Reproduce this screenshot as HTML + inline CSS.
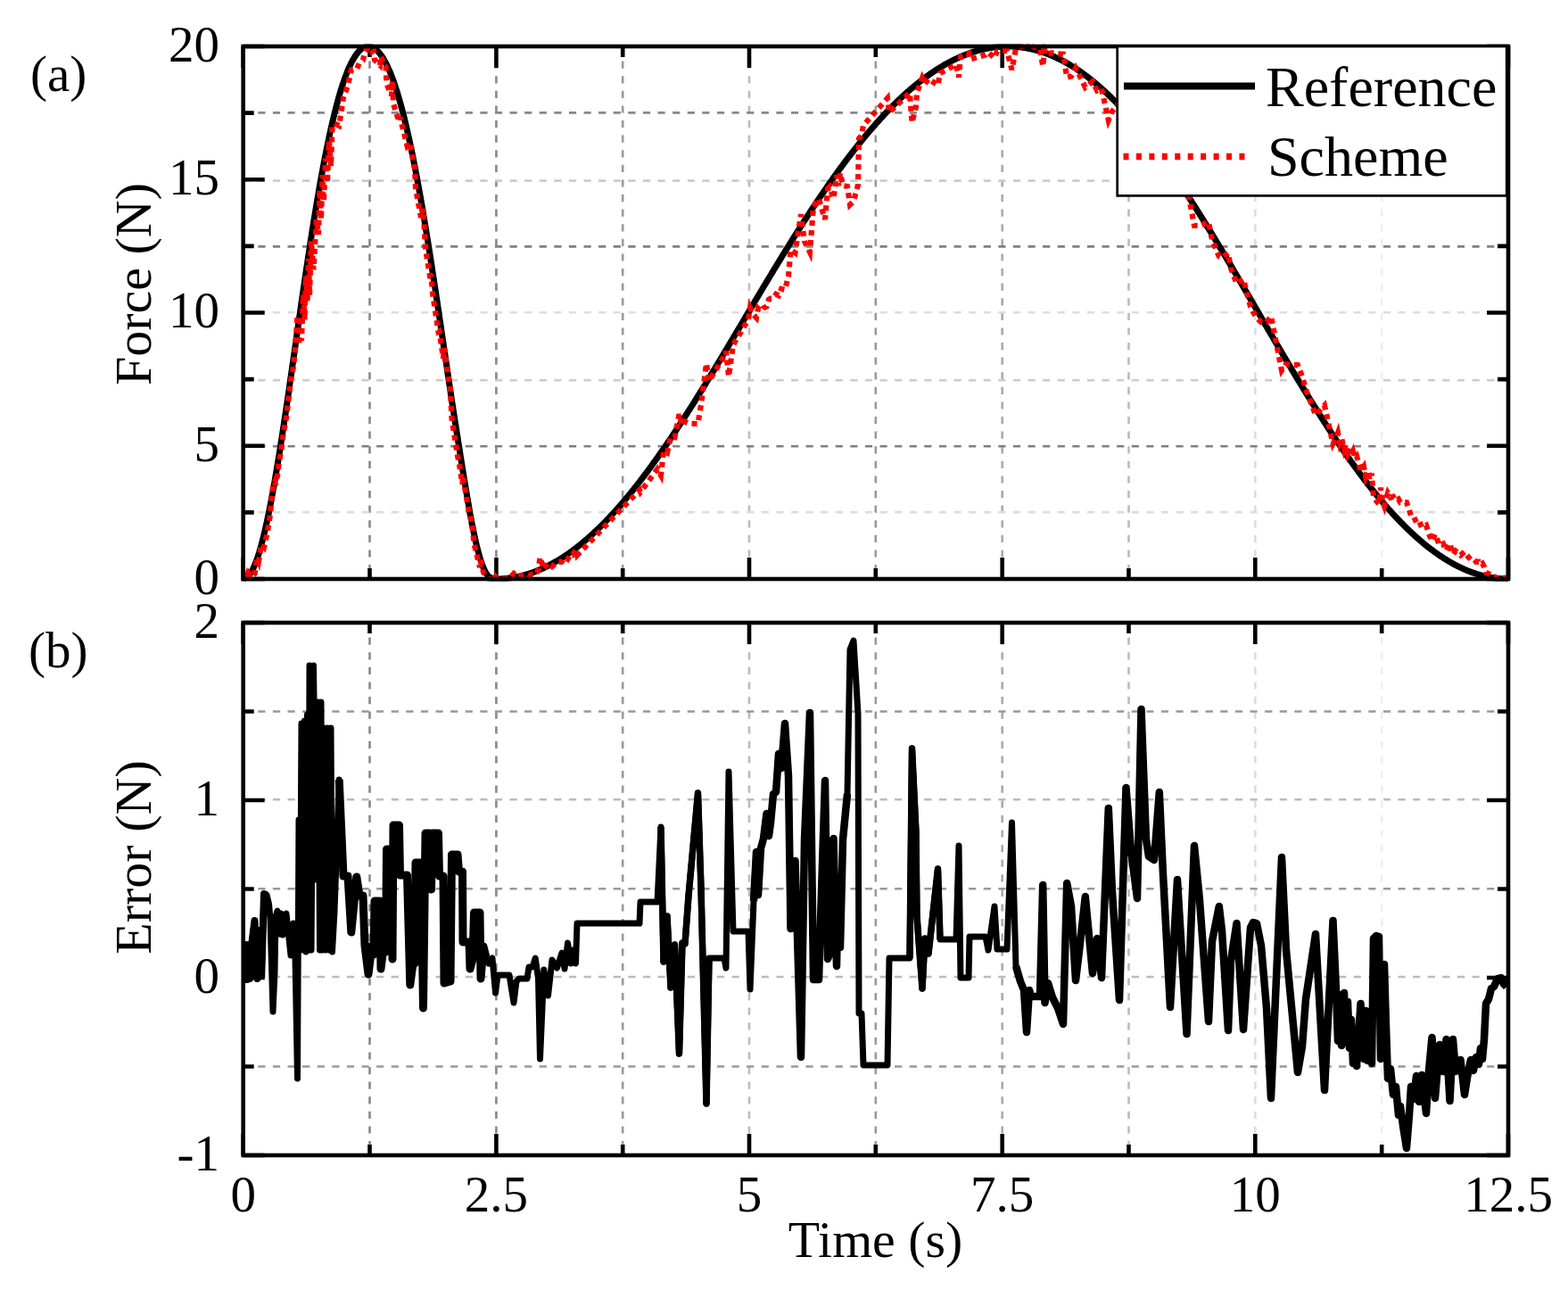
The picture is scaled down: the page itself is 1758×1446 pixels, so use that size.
<!DOCTYPE html><html><head><meta charset="utf-8"><style>html,body{margin:0;padding:0;background:#fff;overflow:hidden;}svg{display:block}text{font-family:"Liberation Serif",serif;fill:#000}</style></head><body>
<svg width="1758" height="1446" viewBox="0 0 1758 1446">
<rect width="1758" height="1446" fill="#fff"/>
<line x1="414.5" y1="52.0" x2="414.5" y2="649.0" stroke="#888888" stroke-width="2.6" stroke-dasharray="8.2 8.4"/>
<line x1="556.4" y1="52.0" x2="556.4" y2="649.0" stroke="#888888" stroke-width="2.6" stroke-dasharray="8.2 8.4"/>
<line x1="698.2" y1="52.0" x2="698.2" y2="649.0" stroke="#999999" stroke-width="2.6" stroke-dasharray="8.2 8.4"/>
<line x1="840.0" y1="52.0" x2="840.0" y2="649.0" stroke="#bbbbbb" stroke-width="2.6" stroke-dasharray="8.2 8.4"/>
<line x1="981.8" y1="52.0" x2="981.8" y2="649.0" stroke="#999999" stroke-width="2.6" stroke-dasharray="8.2 8.4"/>
<line x1="1123.7" y1="52.0" x2="1123.7" y2="649.0" stroke="#aaaaaa" stroke-width="2.6" stroke-dasharray="8.2 8.4"/>
<line x1="1265.5" y1="52.0" x2="1265.5" y2="649.0" stroke="#bbbbbb" stroke-width="2.6" stroke-dasharray="8.2 8.4"/>
<line x1="1407.3" y1="52.0" x2="1407.3" y2="649.0" stroke="#dddddd" stroke-width="2.6" stroke-dasharray="8.2 8.4"/>
<line x1="1549.2" y1="52.0" x2="1549.2" y2="649.0" stroke="#eeeeee" stroke-width="2.6" stroke-dasharray="8.2 8.4"/>
<line x1="272.7" y1="574.1" x2="1691.0" y2="574.1" stroke="#dddddd" stroke-width="2.6" stroke-dasharray="8.2 8.4"/>
<line x1="272.7" y1="500.2" x2="1691.0" y2="500.2" stroke="#808080" stroke-width="2.6" stroke-dasharray="8.2 8.4"/>
<line x1="272.7" y1="426.2" x2="1691.0" y2="426.2" stroke="#cccccc" stroke-width="2.6" stroke-dasharray="8.2 8.4"/>
<line x1="272.7" y1="350.2" x2="1691.0" y2="350.2" stroke="#dddddd" stroke-width="2.6" stroke-dasharray="8.2 8.4"/>
<line x1="272.7" y1="276.4" x2="1691.0" y2="276.4" stroke="#808080" stroke-width="2.6" stroke-dasharray="8.2 8.4"/>
<line x1="272.7" y1="202.6" x2="1691.0" y2="202.6" stroke="#cccccc" stroke-width="2.6" stroke-dasharray="8.2 8.4"/>
<line x1="272.7" y1="126.4" x2="1691.0" y2="126.4" stroke="#888888" stroke-width="2.6" stroke-dasharray="8.2 8.4"/>
<line x1="414.5" y1="698.0" x2="414.5" y2="1295.0" stroke="#888888" stroke-width="2.6" stroke-dasharray="8.2 8.4"/>
<line x1="556.4" y1="698.0" x2="556.4" y2="1295.0" stroke="#888888" stroke-width="2.6" stroke-dasharray="8.2 8.4"/>
<line x1="698.2" y1="698.0" x2="698.2" y2="1295.0" stroke="#999999" stroke-width="2.6" stroke-dasharray="8.2 8.4"/>
<line x1="840.0" y1="698.0" x2="840.0" y2="1295.0" stroke="#bbbbbb" stroke-width="2.6" stroke-dasharray="8.2 8.4"/>
<line x1="981.8" y1="698.0" x2="981.8" y2="1295.0" stroke="#999999" stroke-width="2.6" stroke-dasharray="8.2 8.4"/>
<line x1="1123.7" y1="698.0" x2="1123.7" y2="1295.0" stroke="#aaaaaa" stroke-width="2.6" stroke-dasharray="8.2 8.4"/>
<line x1="1265.5" y1="698.0" x2="1265.5" y2="1295.0" stroke="#bbbbbb" stroke-width="2.6" stroke-dasharray="8.2 8.4"/>
<line x1="1407.3" y1="698.0" x2="1407.3" y2="1295.0" stroke="#dddddd" stroke-width="2.6" stroke-dasharray="8.2 8.4"/>
<line x1="1549.2" y1="698.0" x2="1549.2" y2="1295.0" stroke="#eeeeee" stroke-width="2.6" stroke-dasharray="8.2 8.4"/>
<line x1="272.7" y1="797.5" x2="1691.0" y2="797.5" stroke="#999999" stroke-width="2.6" stroke-dasharray="8.2 8.4"/>
<line x1="272.7" y1="896.2" x2="1691.0" y2="896.2" stroke="#bbbbbb" stroke-width="2.6" stroke-dasharray="8.2 8.4"/>
<line x1="272.7" y1="996.3" x2="1691.0" y2="996.3" stroke="#999999" stroke-width="2.6" stroke-dasharray="8.2 8.4"/>
<line x1="272.7" y1="1095.0" x2="1691.0" y2="1095.0" stroke="#bbbbbb" stroke-width="2.6" stroke-dasharray="8.2 8.4"/>
<line x1="272.7" y1="1195.5" x2="1691.0" y2="1195.5" stroke="#999999" stroke-width="2.6" stroke-dasharray="8.2 8.4"/>
<path d="M272.7 649.0v-24M272.7 52.0v24M414.5 649.0v-12M414.5 52.0v12M556.4 649.0v-24M556.4 52.0v24M698.2 649.0v-12M698.2 52.0v12M840.0 649.0v-24M840.0 52.0v24M981.8 649.0v-12M981.8 52.0v12M1123.7 649.0v-24M1123.7 52.0v24M1265.5 649.0v-12M1265.5 52.0v12M1407.3 649.0v-24M1407.3 52.0v24M1549.2 649.0v-12M1549.2 52.0v12M1691.0 649.0v-24M1691.0 52.0v24M272.7 649.0h24M1691.0 649.0h-24M272.7 499.8h24M1691.0 499.8h-24M272.7 350.5h24M1691.0 350.5h-24M272.7 201.2h24M1691.0 201.2h-24M272.7 52.0h24M1691.0 52.0h-24M272.7 574.4h12M1691.0 574.4h-12M272.7 425.1h12M1691.0 425.1h-12M272.7 275.9h12M1691.0 275.9h-12M272.7 126.6h12M1691.0 126.6h-12" stroke="#000" stroke-width="4.6" fill="none"/>
<path d="M272.7 1295.0v-24M272.7 698.0v24M414.5 1295.0v-12M414.5 698.0v12M556.4 1295.0v-24M556.4 698.0v24M698.2 1295.0v-12M698.2 698.0v12M840.0 1295.0v-24M840.0 698.0v24M981.8 1295.0v-12M981.8 698.0v12M1123.7 1295.0v-24M1123.7 698.0v24M1265.5 1295.0v-12M1265.5 698.0v12M1407.3 1295.0v-24M1407.3 698.0v24M1549.2 1295.0v-12M1549.2 698.0v12M1691.0 1295.0v-24M1691.0 698.0v24M272.7 698.0h24M1691.0 698.0h-24M272.7 897.0h24M1691.0 897.0h-24M272.7 1096.0h24M1691.0 1096.0h-24M272.7 1295.0h24M1691.0 1295.0h-24M272.7 797.5h12M1691.0 797.5h-12M272.7 996.5h12M1691.0 996.5h-12M272.7 1195.5h12M1691.0 1195.5h-12" stroke="#000" stroke-width="4.6" fill="none"/>
<clipPath id="ct"><rect x="269.7" y="49.5" width="1424.3" height="602.0"/></clipPath><g clip-path="url(#ct)"><polyline points="272.7,649.0 273.6,648.5 274.6,648.0 275.5,647.5 276.5,647.0 277.4,646.5 278.4,645.9 279.3,644.7 280.3,643.5 281.2,642.1 282.2,640.5 283.1,638.8 284.0,636.9 285.0,634.8 285.9,632.5 286.9,630.1 287.8,627.6 288.8,624.9 289.7,622.0 290.7,619.0 291.6,615.8 292.6,612.5 293.5,609.0 294.4,605.4 295.4,601.6 296.3,597.7 297.3,593.7 298.2,589.5 299.2,585.3 300.1,580.8 301.1,576.3 302.0,571.6 303.0,566.8 303.9,561.9 304.8,556.9 305.8,551.8 306.7,546.5 307.7,541.2 308.6,535.8 309.6,530.2 310.5,524.6 311.5,518.9 312.4,513.1 313.4,507.3 314.3,501.3 315.2,495.3 316.2,489.2 317.1,483.1 318.1,476.9 319.0,470.6 320.0,464.3 320.9,457.9 321.9,451.5 322.8,445.1 323.8,438.6 324.7,432.1 325.6,425.5 326.6,419.0 327.5,412.4 328.5,405.8 329.4,399.2 330.4,392.5 331.3,385.9 332.3,379.3 333.2,372.7 334.2,366.1 335.1,359.4 336.1,352.9 337.0,346.3 337.9,339.7 338.9,333.2 339.8,326.7 340.8,320.2 341.7,313.8 342.7,307.4 343.6,301.0 344.6,294.7 345.5,288.4 346.5,282.2 347.4,276.0 348.3,269.9 349.3,263.8 350.2,257.8 351.2,251.8 352.1,245.9 353.1,240.1 354.0,234.4 355.0,228.7 355.9,223.1 356.9,217.5 357.8,212.1 358.7,206.7 359.7,201.4 360.6,196.1 361.6,191.0 362.5,185.9 363.5,180.9 364.4,176.0 365.4,171.2 366.3,166.5 367.3,161.9 368.2,157.3 369.1,152.9 370.1,148.5 371.0,144.2 372.0,140.0 372.9,136.0 373.9,132.0 374.8,128.1 375.8,124.3 376.7,120.6 377.7,117.0 378.6,113.5 379.5,110.1 380.5,106.7 381.4,103.5 382.4,100.4 383.3,97.4 384.3,94.5 385.2,91.7 386.2,88.9 387.1,86.3 388.1,83.8 389.0,81.4 389.9,79.0 390.9,76.8 391.8,74.7 392.8,72.7 393.7,70.7 394.7,68.9 395.6,67.1 396.6,65.5 397.5,64.0 398.5,62.5 399.4,61.1 400.3,59.9 401.3,58.7 402.2,57.7 403.2,56.7 404.1,55.8 405.1,55.0 406.0,54.3 407.0,53.7 407.9,53.2 408.9,52.8 409.8,52.5 410.7,52.2 411.7,52.1 412.6,52.0 413.6,52.0 414.5,52.1 415.5,52.3 416.4,52.6 417.4,53.0 418.3,53.4 419.3,53.9 420.2,54.5 421.1,55.2 422.1,56.0 423.0,56.9 424.0,57.9 424.9,58.9 425.9,60.1 426.8,61.3 427.8,62.6 428.7,64.0 429.7,65.5 430.6,67.1 431.5,68.8 432.5,70.5 433.4,72.4 434.4,74.3 435.3,76.4 436.3,78.5 437.2,80.7 438.2,83.0 439.1,85.4 440.1,87.9 441.0,90.5 442.0,93.2 442.9,96.0 443.8,98.9 444.8,101.8 445.7,104.9 446.7,108.0 447.6,111.3 448.6,114.6 449.5,118.0 450.5,121.5 451.4,125.1 452.4,128.8 453.3,132.6 454.2,136.4 455.2,140.4 456.1,144.4 457.1,148.6 458.0,152.8 459.0,157.1 459.9,161.5 460.9,165.9 461.8,170.5 462.8,175.1 463.7,179.8 464.6,184.6 465.6,189.5 466.5,194.5 467.5,199.5 468.4,204.6 469.4,209.8 470.3,215.0 471.3,220.3 472.2,225.7 473.2,231.2 474.1,236.7 475.0,242.3 476.0,248.0 476.9,253.7 477.9,259.4 478.8,265.2 479.8,271.1 480.7,277.1 481.7,283.0 482.6,289.1 483.6,295.1 484.5,301.2 485.4,307.4 486.4,313.6 487.3,319.8 488.3,326.0 489.2,332.3 490.2,338.6 491.1,345.0 492.1,351.3 493.0,357.7 494.0,364.1 494.9,370.5 495.8,376.8 496.8,383.3 497.7,389.7 498.7,396.1 499.6,402.4 500.6,408.8 501.5,415.2 502.5,421.6 503.4,427.9 504.4,434.2 505.3,440.5 506.2,446.7 507.2,453.0 508.1,459.1 509.1,465.3 510.0,471.4 511.0,477.4 511.9,483.4 512.9,489.4 513.8,495.4 514.8,501.3 515.7,507.3 516.6,513.3 517.6,519.2 518.5,525.1 519.5,531.0 520.4,536.8 521.4,542.6 522.3,548.3 523.3,553.9 524.2,559.5 525.2,564.9 526.1,570.3 527.0,575.6 528.0,580.7 528.9,585.7 529.9,590.5 530.8,595.2 531.8,599.7 532.7,604.1 533.7,608.3 534.6,612.3 535.6,616.1 536.5,619.7 537.4,623.0 538.4,626.2 539.3,629.2 540.3,631.9 541.2,634.5 542.2,636.8 543.1,638.9 544.1,640.8 545.0,642.5 546.0,643.9 546.9,645.2 547.9,646.2 548.8,646.7 549.7,647.2 550.7,647.8 551.6,648.3 552.6,648.8 553.5,649.0 554.5,649.0 555.4,649.0 556.4,649.0 557.3,649.0 558.3,649.0 559.2,649.0 560.1,648.9 561.1,648.9 562.0,648.9 563.0,648.8 563.9,648.7 564.9,648.7 565.8,648.6 566.8,648.5 567.7,648.4 568.7,648.3 569.6,648.2 570.5,648.1 571.5,648.0 572.4,647.9 573.4,647.7 574.3,647.6 575.3,647.4 576.2,647.3 577.2,647.1 578.1,646.9 579.1,646.7 580.0,646.6 580.9,646.4 581.9,646.1 582.8,645.9 583.8,645.7 584.7,645.5 585.7,645.2 586.6,645.0 587.6,644.7 588.5,644.5 589.5,644.2 590.4,643.9 591.3,643.6 592.3,643.4 593.2,643.1 594.2,642.7 595.1,642.4 596.1,642.1 597.0,641.8 598.0,641.4 598.9,641.1 599.9,640.7 600.8,640.4 601.7,640.0 602.7,639.6 603.6,639.2 604.6,638.8 605.5,638.4 606.5,638.0 607.4,637.6 608.4,637.2 609.3,636.8 610.3,636.3 611.2,635.9 612.1,635.4 613.1,634.9 614.0,634.5 615.0,634.0 615.9,633.5 616.9,633.0 617.8,632.5 618.8,632.0 619.7,631.5 620.7,631.0 621.6,630.4 622.5,629.9 623.5,629.4 624.4,628.8 625.4,628.2 626.3,627.7 627.3,627.1 628.2,626.5 629.2,625.9 630.1,625.3 631.1,624.7 632.0,624.1 632.9,623.5 633.9,622.8 634.8,622.2 635.8,621.6 636.7,620.9 637.7,620.3 638.6,619.6 639.6,618.9 640.5,618.2 641.5,617.5 642.4,616.9 643.3,616.1 644.3,615.4 645.2,614.7 646.2,614.0 647.1,613.3 648.1,612.5 649.0,611.8 650.0,611.0 650.9,610.3 651.9,609.5 652.8,608.7 653.7,607.9 654.7,607.1 655.6,606.3 656.6,605.5 657.5,604.7 658.5,603.9 659.4,603.1 660.4,602.2 661.3,601.4 662.3,600.6 663.2,599.7 664.2,598.8 665.1,598.0 666.0,597.1 667.0,596.2 667.9,595.3 668.9,594.4 669.8,593.5 670.8,592.6 671.7,591.7 672.7,590.8 673.6,589.8 674.6,588.9 675.5,588.0 676.4,587.0 677.4,586.1 678.3,585.1 679.3,584.1 680.2,583.1 681.2,582.2 682.1,581.2 683.1,580.2 684.0,579.2 685.0,578.1 685.9,577.1 686.8,576.1 687.8,575.1 688.7,574.0 689.7,573.0 690.6,571.9 691.6,570.9 692.5,569.8 693.5,568.8 694.4,567.7 695.4,566.6 696.3,565.5 697.2,564.4 698.2,563.3 699.1,562.2 700.1,561.1 701.0,560.0 702.0,558.8 702.9,557.7 703.9,556.6 704.8,555.4 705.8,554.3 706.7,553.1 707.6,552.0 708.6,550.8 709.5,549.6 710.5,548.4 711.4,547.3 712.4,546.1 713.3,544.9 714.3,543.7 715.2,542.5 716.2,541.2 717.1,540.0 718.0,538.8 719.0,537.6 719.9,536.3 720.9,535.1 721.8,533.8 722.8,532.6 723.7,531.3 724.7,530.1 725.6,528.8 726.6,527.5 727.5,526.2 728.4,525.0 729.4,523.7 730.3,522.4 731.3,521.1 732.2,519.8 733.2,518.4 734.1,517.1 735.1,515.8 736.0,514.5 737.0,513.2 737.9,511.8 738.8,510.5 739.8,509.1 740.7,507.8 741.7,506.4 742.6,505.1 743.6,503.7 744.5,502.3 745.5,501.0 746.4,499.6 747.4,498.2 748.3,496.8 749.2,495.4 750.2,494.0 751.1,492.6 752.1,491.2 753.0,489.8 754.0,488.4 754.9,487.0 755.9,485.6 756.8,484.1 757.8,482.7 758.7,481.3 759.6,479.9 760.6,478.4 761.5,477.0 762.5,475.5 763.4,474.1 764.4,472.6 765.3,471.2 766.3,469.7 767.2,468.2 768.2,466.8 769.1,465.3 770.1,463.8 771.0,462.3 771.9,460.8 772.9,459.4 773.8,457.9 774.8,456.4 775.7,454.9 776.7,453.4 777.6,451.9 778.6,450.4 779.5,448.9 780.5,447.4 781.4,445.8 782.3,444.3 783.3,442.8 784.2,441.3 785.2,439.8 786.1,438.2 787.1,436.7 788.0,435.2 789.0,433.6 789.9,432.1 790.9,430.6 791.8,429.0 792.7,427.5 793.7,425.9 794.6,424.4 795.6,422.8 796.5,421.3 797.5,419.7 798.4,418.2 799.4,416.6 800.3,415.1 801.3,413.5 802.2,411.9 803.1,410.4 804.1,408.8 805.0,407.2 806.0,405.7 806.9,404.1 807.9,402.5 808.8,400.9 809.8,399.4 810.7,397.8 811.7,396.2 812.6,394.6 813.5,393.1 814.5,391.5 815.4,389.9 816.4,388.3 817.3,386.7 818.3,385.1 819.2,383.5 820.2,382.0 821.1,380.4 822.1,378.8 823.0,377.2 823.9,375.6 824.9,374.0 825.8,372.4 826.8,370.8 827.7,369.2 828.7,367.7 829.6,366.1 830.6,364.5 831.5,362.9 832.5,361.3 833.4,359.7 834.3,358.1 835.3,356.5 836.2,354.9 837.2,353.3 838.1,351.7 839.1,350.1 840.0,348.6 841.0,347.0 841.9,345.4 842.9,343.8 843.8,342.2 844.7,340.6 845.7,339.0 846.6,337.4 847.6,335.8 848.5,334.3 849.5,332.7 850.4,331.1 851.4,329.5 852.3,327.9 853.3,326.3 854.2,324.8 855.1,323.2 856.1,321.6 857.0,320.0 858.0,318.5 858.9,316.9 859.9,315.3 860.8,313.7 861.8,312.2 862.7,310.6 863.7,309.0 864.6,307.5 865.5,305.9 866.5,304.3 867.4,302.8 868.4,301.2 869.3,299.7 870.3,298.1 871.2,296.6 872.2,295.0 873.1,293.5 874.1,291.9 875.0,290.4 876.0,288.8 876.9,287.3 877.8,285.7 878.8,284.2 879.7,282.7 880.7,281.1 881.6,279.6 882.6,278.1 883.5,276.6 884.5,275.0 885.4,273.5 886.4,272.0 887.3,270.5 888.2,269.0 889.2,267.5 890.1,266.0 891.1,264.5 892.0,263.0 893.0,261.5 893.9,260.0 894.9,258.5 895.8,257.0 896.8,255.5 897.7,254.0 898.6,252.6 899.6,251.1 900.5,249.6 901.5,248.1 902.4,246.7 903.4,245.2 904.3,243.8 905.3,242.3 906.2,240.9 907.2,239.4 908.1,238.0 909.0,236.5 910.0,235.1 910.9,233.7 911.9,232.2 912.8,230.8 913.8,229.4 914.7,228.0 915.7,226.5 916.6,225.1 917.6,223.7 918.5,222.3 919.4,220.9 920.4,219.5 921.3,218.1 922.3,216.8 923.2,215.4 924.2,214.0 925.1,212.6 926.1,211.3 927.0,209.9 928.0,208.5 928.9,207.2 929.8,205.8 930.8,204.5 931.7,203.1 932.7,201.8 933.6,200.5 934.6,199.1 935.5,197.8 936.5,196.5 937.4,195.2 938.4,193.8 939.3,192.5 940.2,191.2 941.2,189.9 942.1,188.7 943.1,187.4 944.0,186.1 945.0,184.8 945.9,183.5 946.9,182.3 947.8,181.0 948.8,179.7 949.7,178.5 950.6,177.2 951.6,176.0 952.5,174.8 953.5,173.5 954.4,172.3 955.4,171.1 956.3,169.9 957.3,168.6 958.2,167.4 959.2,166.2 960.1,165.0 961.0,163.8 962.0,162.7 962.9,161.5 963.9,160.3 964.8,159.1 965.8,158.0 966.7,156.8 967.7,155.7 968.6,154.5 969.6,153.4 970.5,152.2 971.4,151.1 972.4,150.0 973.3,148.8 974.3,147.7 975.2,146.6 976.2,145.5 977.1,144.4 978.1,143.3 979.0,142.2 980.0,141.2 980.9,140.1 981.8,139.0 982.8,137.9 983.7,136.9 984.7,135.8 985.6,134.8 986.6,133.7 987.5,132.7 988.5,131.7 989.4,130.7 990.4,129.6 991.3,128.6 992.3,127.6 993.2,126.6 994.1,125.6 995.1,124.6 996.0,123.7 997.0,122.7 997.9,121.7 998.9,120.8 999.8,119.8 1000.8,118.9 1001.7,117.9 1002.7,117.0 1003.6,116.0 1004.5,115.1 1005.5,114.2 1006.4,113.3 1007.4,112.4 1008.3,111.5 1009.3,110.6 1010.2,109.7 1011.2,108.8 1012.1,107.9 1013.1,107.1 1014.0,106.2 1014.9,105.3 1015.9,104.5 1016.8,103.6 1017.8,102.8 1018.7,102.0 1019.7,101.1 1020.6,100.3 1021.6,99.5 1022.5,98.7 1023.5,97.9 1024.4,97.1 1025.3,96.3 1026.3,95.6 1027.2,94.8 1028.2,94.0 1029.1,93.3 1030.1,92.5 1031.0,91.8 1032.0,91.0 1032.9,90.3 1033.9,89.6 1034.8,88.8 1035.7,88.1 1036.7,87.4 1037.6,86.7 1038.6,86.0 1039.5,85.3 1040.5,84.6 1041.4,84.0 1042.4,83.3 1043.3,82.6 1044.3,82.0 1045.2,81.3 1046.1,80.7 1047.1,80.1 1048.0,79.4 1049.0,78.8 1049.9,78.2 1050.9,77.6 1051.8,77.0 1052.8,76.4 1053.7,75.8 1054.7,75.2 1055.6,74.7 1056.5,74.1 1057.5,73.6 1058.4,73.0 1059.4,72.5 1060.3,71.9 1061.3,71.4 1062.2,70.9 1063.2,70.4 1064.1,69.8 1065.1,69.3 1066.0,68.8 1066.9,68.4 1067.9,67.9 1068.8,67.4 1069.8,66.9 1070.7,66.5 1071.7,66.0 1072.6,65.6 1073.6,65.1 1074.5,64.7 1075.5,64.3 1076.4,63.9 1077.3,63.4 1078.3,63.0 1079.2,62.6 1080.2,62.2 1081.1,61.9 1082.1,61.5 1083.0,61.1 1084.0,60.8 1084.9,60.4 1085.9,60.1 1086.8,59.7 1087.7,59.4 1088.7,59.1 1089.6,58.7 1090.6,58.4 1091.5,58.1 1092.5,57.8 1093.4,57.5 1094.4,57.3 1095.3,57.0 1096.3,56.7 1097.2,56.5 1098.2,56.2 1099.1,56.0 1100.0,55.7 1101.0,55.5 1101.9,55.3 1102.9,55.1 1103.8,54.8 1104.8,54.6 1105.7,54.4 1106.7,54.3 1107.6,54.1 1108.6,53.9 1109.5,53.7 1110.4,53.6 1111.4,53.4 1112.3,53.3 1113.3,53.2 1114.2,53.0 1115.2,52.9 1116.1,52.8 1117.1,52.7 1118.0,52.6 1119.0,52.5 1119.9,52.4 1120.8,52.3 1121.8,52.3 1122.7,52.2 1123.7,52.2 1124.6,52.1 1125.6,52.1 1126.5,52.0 1127.5,52.0 1128.4,52.0 1129.4,52.0 1130.3,52.0 1131.2,52.0 1132.2,52.0 1133.1,52.0 1134.1,52.1 1135.0,52.1 1136.0,52.2 1136.9,52.2 1137.9,52.3 1138.8,52.3 1139.8,52.4 1140.7,52.5 1141.6,52.6 1142.6,52.7 1143.5,52.8 1144.5,52.9 1145.4,53.0 1146.4,53.2 1147.3,53.3 1148.3,53.4 1149.2,53.6 1150.2,53.7 1151.1,53.9 1152.0,54.1 1153.0,54.3 1153.9,54.5 1154.9,54.7 1155.8,54.9 1156.8,55.1 1157.7,55.3 1158.7,55.5 1159.6,55.8 1160.6,56.0 1161.5,56.2 1162.4,56.5 1163.4,56.8 1164.3,57.0 1165.3,57.3 1166.2,57.6 1167.2,57.9 1168.1,58.2 1169.1,58.5 1170.0,58.9 1171.0,59.2 1171.9,59.5 1172.8,59.9 1173.8,60.2 1174.7,60.6 1175.7,60.9 1176.6,61.3 1177.6,61.7 1178.5,62.1 1179.5,62.5 1180.4,62.9 1181.4,63.3 1182.3,63.7 1183.2,64.1 1184.2,64.6 1185.1,65.0 1186.1,65.5 1187.0,65.9 1188.0,66.4 1188.9,66.9 1189.9,67.4 1190.8,67.8 1191.8,68.3 1192.7,68.8 1193.6,69.4 1194.6,69.9 1195.5,70.4 1196.5,70.9 1197.4,71.5 1198.4,72.0 1199.3,72.6 1200.3,73.2 1201.2,73.7 1202.2,74.3 1203.1,74.9 1204.1,75.5 1205.0,76.1 1205.9,76.7 1206.9,77.3 1207.8,78.0 1208.8,78.6 1209.7,79.2 1210.7,79.9 1211.6,80.5 1212.6,81.2 1213.5,81.9 1214.5,82.6 1215.4,83.3 1216.3,83.9 1217.3,84.7 1218.2,85.4 1219.2,86.1 1220.1,86.8 1221.1,87.5 1222.0,88.3 1223.0,89.0 1223.9,89.8 1224.9,90.5 1225.8,91.3 1226.7,92.1 1227.7,92.9 1228.6,93.7 1229.6,94.5 1230.5,95.3 1231.5,96.1 1232.4,96.9 1233.4,97.7 1234.3,98.6 1235.3,99.4 1236.2,100.3 1237.1,101.1 1238.1,102.0 1239.0,102.8 1240.0,103.7 1240.9,104.6 1241.9,105.5 1242.8,106.4 1243.8,107.3 1244.7,108.2 1245.7,109.1 1246.6,110.1 1247.5,111.0 1248.5,112.0 1249.4,112.9 1250.4,113.9 1251.3,114.8 1252.3,115.8 1253.2,116.8 1254.2,117.8 1255.1,118.7 1256.1,119.7 1257.0,120.7 1257.9,121.8 1258.9,122.8 1259.8,123.8 1260.8,124.8 1261.7,125.9 1262.7,126.9 1263.6,128.0 1264.6,129.0 1265.5,130.1 1266.5,131.2 1267.4,132.2 1268.3,133.3 1269.3,134.4 1270.2,135.5 1271.2,136.6 1272.1,137.7 1273.1,138.9 1274.0,140.0 1275.0,141.1 1275.9,142.2 1276.9,143.4 1277.8,144.5 1278.7,145.7 1279.7,146.8 1280.6,148.0 1281.6,149.2 1282.5,150.4 1283.5,151.6 1284.4,152.7 1285.4,153.9 1286.3,155.1 1287.3,156.4 1288.2,157.6 1289.1,158.8 1290.1,160.0 1291.0,161.3 1292.0,162.5 1292.9,163.7 1293.9,165.0 1294.8,166.2 1295.8,167.5 1296.7,168.8 1297.7,170.1 1298.6,171.3 1299.5,172.6 1300.5,173.9 1301.4,175.2 1302.4,176.5 1303.3,177.8 1304.3,179.1 1305.2,180.4 1306.2,181.8 1307.1,183.1 1308.1,184.4 1309.0,185.8 1310.0,187.1 1310.9,188.4 1311.8,189.8 1312.8,191.2 1313.7,192.5 1314.7,193.9 1315.6,195.3 1316.6,196.6 1317.5,198.0 1318.5,199.4 1319.4,200.8 1320.4,202.2 1321.3,203.6 1322.2,205.0 1323.2,206.4 1324.1,207.8 1325.1,209.2 1326.0,210.7 1327.0,212.1 1327.9,213.5 1328.9,215.0 1329.8,216.4 1330.8,217.8 1331.7,219.3 1332.6,220.8 1333.6,222.2 1334.5,223.7 1335.5,225.1 1336.4,226.6 1337.4,228.1 1338.3,229.6 1339.3,231.0 1340.2,232.5 1341.2,234.0 1342.1,235.5 1343.0,237.0 1344.0,238.5 1344.9,240.0 1345.9,241.5 1346.8,243.0 1347.8,244.5 1348.7,246.0 1349.7,247.6 1350.6,249.1 1351.6,250.6 1352.5,252.1 1353.4,253.7 1354.4,255.2 1355.3,256.7 1356.3,258.3 1357.2,259.8 1358.2,261.4 1359.1,262.9 1360.1,264.5 1361.0,266.0 1362.0,267.6 1362.9,269.1 1363.8,270.7 1364.8,272.3 1365.7,273.8 1366.7,275.4 1367.6,277.0 1368.6,278.5 1369.5,280.1 1370.5,281.7 1371.4,283.3 1372.4,284.9 1373.3,286.5 1374.2,288.0 1375.2,289.6 1376.1,291.2 1377.1,292.8 1378.0,294.4 1379.0,296.0 1379.9,297.6 1380.9,299.2 1381.8,300.8 1382.8,302.4 1383.7,304.0 1384.6,305.6 1385.6,307.2 1386.5,308.8 1387.5,310.4 1388.4,312.0 1389.4,313.7 1390.3,315.3 1391.3,316.9 1392.2,318.5 1393.2,320.1 1394.1,321.7 1395.0,323.3 1396.0,325.0 1396.9,326.6 1397.9,328.2 1398.8,329.8 1399.8,331.4 1400.7,333.1 1401.7,334.7 1402.6,336.3 1403.6,337.9 1404.5,339.5 1405.4,341.2 1406.4,342.8 1407.3,344.4 1408.3,346.0 1409.2,347.7 1410.2,349.3 1411.1,350.9 1412.1,352.5 1413.0,354.1 1414.0,355.8 1414.9,357.4 1415.8,359.0 1416.8,360.6 1417.7,362.3 1418.7,363.9 1419.6,365.5 1420.6,367.1 1421.5,368.7 1422.5,370.4 1423.4,372.0 1424.4,373.6 1425.3,375.2 1426.3,376.8 1427.2,378.4 1428.1,380.0 1429.1,381.7 1430.0,383.3 1431.0,384.9 1431.9,386.5 1432.9,388.1 1433.8,389.7 1434.8,391.3 1435.7,392.9 1436.7,394.5 1437.6,396.1 1438.5,397.7 1439.5,399.3 1440.4,400.9 1441.4,402.5 1442.3,404.1 1443.3,405.7 1444.2,407.3 1445.2,408.8 1446.1,410.4 1447.1,412.0 1448.0,413.6 1448.9,415.2 1449.9,416.8 1450.8,418.3 1451.8,419.9 1452.7,421.5 1453.7,423.0 1454.6,424.6 1455.6,426.2 1456.5,427.7 1457.5,429.3 1458.4,430.8 1459.3,432.4 1460.3,433.9 1461.2,435.5 1462.2,437.0 1463.1,438.6 1464.1,440.1 1465.0,441.6 1466.0,443.2 1466.9,444.7 1467.9,446.2 1468.8,447.8 1469.7,449.3 1470.7,450.8 1471.6,452.3 1472.6,453.8 1473.5,455.3 1474.5,456.8 1475.4,458.3 1476.4,459.8 1477.3,461.3 1478.3,462.8 1479.2,464.3 1480.1,465.8 1481.1,467.3 1482.0,468.7 1483.0,470.2 1483.9,471.7 1484.9,473.1 1485.8,474.6 1486.8,476.1 1487.7,477.5 1488.7,479.0 1489.6,480.4 1490.5,481.9 1491.5,483.3 1492.4,484.7 1493.4,486.2 1494.3,487.6 1495.3,489.0 1496.2,490.4 1497.2,491.8 1498.1,493.2 1499.1,494.6 1500.0,496.0 1500.9,497.4 1501.9,498.8 1502.8,500.2 1503.8,501.6 1504.7,503.0 1505.7,504.3 1506.6,505.7 1507.6,507.1 1508.5,508.4 1509.5,509.8 1510.4,511.1 1511.3,512.5 1512.3,513.8 1513.2,515.1 1514.2,516.5 1515.1,517.8 1516.1,519.1 1517.0,520.4 1518.0,521.7 1518.9,523.0 1519.9,524.3 1520.8,525.6 1521.7,526.9 1522.7,528.2 1523.6,529.5 1524.6,530.7 1525.5,532.0 1526.5,533.2 1527.4,534.5 1528.4,535.7 1529.3,537.0 1530.3,538.2 1531.2,539.5 1532.2,540.7 1533.1,541.9 1534.0,543.1 1535.0,544.3 1535.9,545.5 1536.9,546.7 1537.8,547.9 1538.8,549.1 1539.7,550.3 1540.7,551.5 1541.6,552.6 1542.6,553.8 1543.5,555.0 1544.4,556.1 1545.4,557.2 1546.3,558.4 1547.3,559.5 1548.2,560.6 1549.2,561.8 1550.1,562.9 1551.1,564.0 1552.0,565.1 1553.0,566.2 1553.9,567.3 1554.8,568.4 1555.8,569.4 1556.7,570.5 1557.7,571.6 1558.6,572.6 1559.6,573.7 1560.5,574.7 1561.5,575.8 1562.4,576.8 1563.4,577.8 1564.3,578.8 1565.2,579.8 1566.2,580.8 1567.1,581.8 1568.1,582.8 1569.0,583.8 1570.0,584.8 1570.9,585.8 1571.9,586.7 1572.8,587.7 1573.8,588.6 1574.7,589.6 1575.6,590.5 1576.6,591.5 1577.5,592.4 1578.5,593.3 1579.4,594.2 1580.4,595.1 1581.3,596.0 1582.3,596.9 1583.2,597.8 1584.2,598.7 1585.1,599.5 1586.0,600.4 1587.0,601.2 1587.9,602.1 1588.9,602.9 1589.8,603.8 1590.8,604.6 1591.7,605.4 1592.7,606.2 1593.6,607.0 1594.6,607.8 1595.5,608.6 1596.4,609.4 1597.4,610.2 1598.3,610.9 1599.3,611.7 1600.2,612.4 1601.2,613.2 1602.1,613.9 1603.1,614.7 1604.0,615.4 1605.0,616.1 1605.9,616.8 1606.8,617.5 1607.8,618.2 1608.7,618.9 1609.7,619.6 1610.6,620.2 1611.6,620.9 1612.5,621.6 1613.5,622.2 1614.4,622.9 1615.4,623.5 1616.3,624.1 1617.2,624.7 1618.2,625.4 1619.1,626.0 1620.1,626.6 1621.0,627.1 1622.0,627.7 1622.9,628.3 1623.9,628.9 1624.8,629.4 1625.8,630.0 1626.7,630.5 1627.6,631.1 1628.6,631.6 1629.5,632.1 1630.5,632.6 1631.4,633.1 1632.4,633.6 1633.3,634.1 1634.3,634.6 1635.2,635.1 1636.2,635.5 1637.1,636.0 1638.1,636.4 1639.0,636.9 1639.9,637.3 1640.9,637.7 1641.8,638.2 1642.8,638.6 1643.7,639.0 1644.7,639.4 1645.6,639.8 1646.6,640.1 1647.5,640.5 1648.5,640.9 1649.4,641.2 1650.3,641.6 1651.3,641.9 1652.2,642.2 1653.2,642.6 1654.1,642.9 1655.1,643.2 1656.0,643.5 1657.0,643.8 1657.9,644.1 1658.9,644.4 1659.8,644.6 1660.7,644.9 1661.7,645.1 1662.6,645.4 1663.6,645.6 1664.5,645.8 1665.5,646.1 1666.4,646.3 1667.4,646.5 1668.3,646.7 1669.3,646.9 1670.2,647.1 1671.1,647.2 1672.1,647.4 1673.0,647.5 1674.0,647.7 1674.9,647.8 1675.9,648.0 1676.8,648.1 1677.8,648.2 1678.7,648.3 1679.7,648.4 1680.6,648.5 1681.5,648.6 1682.5,648.7 1683.4,648.7 1684.4,648.8 1685.3,648.9 1686.3,648.9 1687.2,648.9 1688.2,649.0 1689.1,649.0 1690.1,649.0 1691.0,649.0" fill="none" stroke="#000" stroke-width="7" stroke-linejoin="round"/><polyline points="272.5,652.0 274.0,648.2 275.5,652.0 277.0,646.4 278.5,651.3 280.0,643.7 282.0,646.2 285.5,643.2 288.5,625.5 290.0,629.1 293.2,610.2 296.0,613.3 299.0,600.0 301.5,586.6 303.0,576.5 306.0,544.9 308.0,540.3 309.0,543.8 311.0,533.0 313.0,516.8 315.0,507.7 317.0,491.2 321.0,468.2 326.0,426.9 329.0,411.3 331.0,391.5 333.5,353.7 335.0,386.7 336.5,354.4 338.0,382.1 340.0,330.2 341.5,358.5 343.0,309.5 344.5,339.3 346.0,289.8 347.0,331.1 349.0,270.3 351.5,302.3 354.8,246.2 357.0,263.0 358.5,212.7 360.0,246.0 361.5,196.1 363.0,225.4 365.0,177.7 367.0,205.1 369.0,158.2 371.0,186.4 372.5,142.1 375.0,138.4 380.2,140.9 385.0,109.4 390.0,96.0 393.8,78.3 399.8,77.6 403.0,70.7 407.0,67.5 409.0,58.1 413.0,52.6 417.0,58.2 419.0,57.7 420.0,67.3 426.0,73.1 427.0,63.0 429.0,68.3 431.0,73.9 432.5,74.9 433.5,94.1 439.0,106.8 440.0,90.9 441.0,116.2 447.5,136.5 448.5,131.6 456.5,163.3 459.8,159.5 463.0,178.8 465.0,188.9 466.0,211.0 472.0,243.9 474.5,234.0 477.0,278.4 482.0,309.5 483.5,309.6 485.0,328.8 491.5,371.8 492.5,371.3 497.0,401.8 498.0,390.5 505.0,437.9 506.5,469.1 513.0,510.9 514.5,517.6 518.5,542.7 519.0,534.0 526.0,575.7 527.0,576.8 530.0,594.3 531.5,609.4 538.0,635.9 539.0,628.0 542.0,641.6 545.0,645.9 548.0,648.7 552.0,651.8 555.5,646.5 558.0,649.4 571.0,648.5 576.0,643.1 579.0,646.2 582.0,646.0 591.0,643.6 593.0,644.9 597.0,643.6 600.2,643.9 603.5,639.1 605.5,624.8 609.8,637.9 614.5,631.2 619.0,634.9 624.5,630.4 630.0,629.6 633.0,624.9 636.5,626.9 640.0,621.0 642.0,621.8 645.5,616.9 647.0,622.5 717.0,549.3 718.0,551.6 737.0,525.8 741.0,532.8 744.0,505.8 748.0,507.6 752.0,489.7 756.5,490.2 761.5,464.3 765.0,477.5 768.0,472.7 772.0,474.6 782.5,475.1 786.0,453.4 792.0,407.5 795.0,427.1 812.0,398.9 814.0,393.9 817.0,421.9 822.0,386.7 839.0,358.1 841.0,345.0 845.0,353.1 848.0,356.3 850.0,345.7 853.0,348.5 856.0,345.2 859.5,343.5 862.0,335.6 864.0,334.6 867.0,334.4 870.0,329.8 873.0,331.3 876.0,324.0 880.0,325.0 884.0,309.7 886.5,280.0 891.5,283.4 898.0,240.2 902.0,270.6 908.0,282.7 912.0,231.7 918.0,222.8 921.0,233.0 925.0,245.9 928.0,211.6 930.0,209.5 934.5,222.6 938.0,196.3 940.0,208.1 942.0,193.9 945.0,208.0 950.0,209.0 953.0,229.4 957.0,225.7 962.0,207.0 963.0,155.4 966.0,151.7 968.0,140.5 995.0,110.0 997.0,126.0 1020.0,104.2 1022.5,137.3 1027.0,119.4 1028.0,104.5 1034.0,87.6 1037.0,93.8 1041.0,88.3 1051.5,95.5 1054.0,82.1 1072.0,72.3 1075.0,86.7 1077.0,63.6 1086.0,60.0 1087.0,66.6 1105.0,61.5 1108.0,58.7 1115.0,64.9 1118.0,57.4 1129.0,56.8 1134.5,78.2 1139.0,54.3 1144.0,52.2 1148.0,51.3 1151.0,46.0 1154.0,52.4 1156.0,51.7 1166.0,54.4 1169.2,74.2 1171.5,55.2 1175.0,59.8 1180.0,59.4 1186.0,60.3 1192.0,60.7 1196.2,86.7 1201.0,85.6 1206.0,76.3 1210.0,83.9 1216.8,97.9 1225.0,91.4 1230.0,101.4 1235.0,99.2 1242.8,134.8 1247.0,124.9 1255.0,114.9 1262.5,158.7 1268.0,154.4 1275.0,154.5 1279.5,191.8 1285.0,176.7 1288.0,177.7 1294.0,185.0 1299.8,204.1 1304.0,196.1 1312.0,185.1 1320.0,218.2 1330.5,208.0 1339.0,252.8 1345.0,253.1 1355.0,248.8 1359.0,268.9 1366.8,287.5 1370.0,288.9 1377.0,283.8 1380.0,300.6 1386.5,317.9 1394.0,312.8 1402.0,343.6 1405.0,349.7 1409.0,356.4 1414.0,361.2 1420.0,361.0 1425.0,354.4 1437.0,415.3 1442.0,408.2 1455.0,409.3 1460.0,421.9 1464.0,436.4 1475.0,465.0 1485.0,454.4 1494.5,497.4 1498.0,491.0 1500.0,485.4 1502.0,496.1 1504.0,490.5 1507.0,503.7 1509.0,498.2 1511.0,507.9 1513.0,502.9 1515.0,510.5 1517.0,506.0 1519.0,513.1 1521.0,511.0 1525.5,527.6 1529.0,522.9 1531.0,533.6 1533.0,527.8 1536.0,534.1 1538.0,533.7 1540.0,557.2 1543.0,561.4 1546.0,564.9 1548.0,546.7 1550.0,562.1 1552.0,567.3 1554.0,559.3 1556.0,552.7 1559.0,557.7 1562.0,556.7 1565.0,561.3 1568.0,559.6 1570.0,563.2 1573.0,563.0 1577.0,563.2 1580.0,571.7 1582.0,578.3 1585.0,579.0 1588.0,585.6 1591.0,583.9 1594.0,591.0 1599.0,588.7 1602.0,598.2 1605.5,606.5 1609.0,598.8 1614.0,611.3 1618.0,609.5 1621.5,617.1 1625.5,609.1 1629.0,621.5 1632.0,617.7 1637.5,622.4 1642.0,618.6 1646.0,624.0 1649.0,627.3 1652.0,626.6 1655.0,629.8 1658.0,629.6 1660.0,632.8 1662.0,631.6 1664.0,635.4 1666.0,641.8 1669.0,643.2 1672.0,645.6 1675.0,646.3 1679.0,648.2 1683.0,648.7 1686.0,647.8 1689.0,647.5" fill="none" stroke="#f00" stroke-width="6.2" stroke-dasharray="6 5" stroke-linejoin="miter"/></g><clipPath id="cb"><rect x="272.7" y="698.0" width="1418.3" height="597.0"/></clipPath><polyline clip-path="url(#cb)" points="272.5,1062.0 274.0,1097.0 275.5,1059.0 277.0,1098.0 278.5,1059.0 280.0,1097.0 282.0,1060.0 285.5,1032.0 288.5,1097.0 290.0,1043.0 293.2,1094.0 296.0,1002.0 299.0,1003.0 301.5,1013.0 303.0,1030.0 306.0,1134.0 308.0,1090.0 309.0,1028.0 311.0,1021.0 313.0,1047.0 315.0,1024.0 317.0,1048.0 321.0,1024.0 326.0,1071.0 329.0,1035.0 331.0,1074.0 333.5,1209.0 335.0,919.0 336.5,1065.0 338.0,811.0 340.0,1065.0 341.5,808.0 343.0,1067.0 344.5,801.0 346.0,1065.0 347.0,746.0 349.0,1065.0 351.5,746.0 354.8,986.0 357.0,787.0 358.5,1065.0 360.0,787.0 361.5,1065.0 363.0,816.0 365.0,1065.0 367.0,816.0 369.0,1065.0 371.0,816.0 372.5,1067.0 375.0,1022.0 380.2,874.0 385.0,982.0 390.0,982.0 393.8,1045.0 399.8,983.0 403.0,1004.0 407.0,1004.0 409.0,1060.0 413.0,1092.0 417.0,1060.0 419.0,1070.0 420.0,1010.0 426.0,1010.0 427.0,1086.0 429.0,1070.0 431.0,1055.0 432.5,1067.0 433.5,952.0 439.0,952.0 440.0,1075.0 441.0,925.0 447.5,925.0 448.5,981.0 456.5,981.0 459.8,1104.0 463.0,1080.0 465.0,1080.0 466.0,967.0 472.0,967.0 474.5,1130.0 477.0,934.0 482.0,934.0 483.5,997.0 485.0,934.0 491.5,934.0 492.5,982.0 497.0,982.0 498.0,1102.0 505.0,1100.0 506.5,958.0 513.0,958.0 514.5,977.0 518.5,977.0 519.0,1056.0 526.0,1056.0 527.0,1086.0 530.0,1075.0 531.5,1023.0 538.0,1023.0 539.0,1097.0 542.0,1061.0 545.0,1073.0 548.0,1080.0 552.0,1074.0 555.5,1113.0 558.0,1093.0 571.0,1093.0 576.0,1124.0 579.0,1100.0 582.0,1097.0 591.0,1097.0 593.0,1084.0 597.0,1084.0 600.2,1074.0 603.5,1097.0 605.5,1187.0 609.8,1087.0 614.5,1116.0 619.0,1076.0 624.5,1085.0 630.0,1068.0 633.0,1086.0 636.5,1057.0 640.0,1080.0 642.0,1065.0 645.5,1080.0 647.0,1035.0 717.0,1035.0 718.0,1011.0 737.0,1011.0 741.0,927.0 744.0,1078.0 748.0,1027.0 752.0,1107.0 756.5,1059.0 761.5,1181.0 765.0,1057.0 768.0,1058.0 772.0,1004.0 782.5,889.0 786.0,996.0 792.0,1237.0 795.0,1074.0 812.0,1074.0 814.0,1085.0 817.0,865.0 822.0,1044.0 839.0,1044.0 841.0,1109.0 845.0,1010.0 848.0,955.0 850.0,1003.0 853.0,951.0 856.0,940.0 859.5,912.0 862.0,937.0 864.0,922.0 867.0,890.0 870.0,888.0 873.0,845.0 876.0,861.0 880.0,811.0 884.0,870.0 886.5,1041.0 891.5,965.0 898.0,1185.0 902.0,941.0 908.0,799.0 912.0,1098.0 918.0,1098.0 921.0,1000.0 925.0,875.0 928.0,1075.0 930.0,1070.0 934.5,940.0 938.0,1083.0 940.0,986.0 942.0,1062.0 945.0,941.0 950.0,890.0 953.0,728.0 957.0,718.0 962.0,800.0 963.0,1136.0 966.0,1136.0 968.0,1194.0 995.0,1194.0 997.0,1074.0 1020.0,1074.0 1022.5,839.0 1027.0,933.0 1028.0,1027.0 1034.0,1108.0 1037.0,1052.0 1041.0,1069.0 1051.5,974.0 1054.0,1053.0 1072.0,1053.0 1075.0,948.0 1077.0,1096.0 1086.0,1096.0 1087.0,1050.0 1105.0,1050.0 1108.0,1065.0 1115.0,1016.0 1118.0,1064.0 1129.0,1064.0 1134.5,922.0 1139.0,1083.0 1144.0,1100.0 1148.0,1110.0 1151.0,1157.0 1154.0,1110.0 1156.0,1117.0 1166.0,1117.0 1169.2,992.0 1171.5,1124.0 1175.0,1102.0 1180.0,1118.0 1186.0,1130.0 1192.0,1148.0 1196.2,990.0 1201.0,1016.0 1206.0,1099.0 1210.0,1066.0 1216.8,1005.0 1225.0,1091.0 1230.0,1052.0 1235.0,1096.0 1242.8,906.0 1247.0,1000.0 1255.0,1121.0 1262.5,883.0 1268.0,953.0 1275.0,1007.0 1279.5,795.0 1285.0,941.0 1288.0,960.0 1294.0,964.0 1299.8,888.0 1304.0,980.0 1312.0,1129.0 1320.0,986.0 1330.5,1159.0 1339.0,948.0 1345.0,1009.0 1355.0,1145.0 1359.0,1055.0 1366.8,1016.0 1370.0,1043.0 1377.0,1155.0 1380.0,1077.0 1386.5,1035.0 1394.0,1154.0 1402.0,1040.0 1405.0,1034.0 1409.0,1035.0 1414.0,1060.0 1420.0,1130.0 1425.0,1231.0 1437.0,961.0 1442.0,1065.0 1455.0,1202.0 1460.0,1173.0 1464.0,1120.0 1475.0,1047.0 1485.0,1222.0 1494.5,1032.0 1498.0,1110.0 1500.0,1167.0 1502.0,1115.0 1504.0,1172.0 1507.0,1113.0 1509.0,1169.0 1511.0,1123.0 1513.0,1175.0 1515.0,1143.0 1517.0,1192.0 1519.0,1163.0 1521.0,1195.0 1525.5,1125.0 1529.0,1187.0 1531.0,1133.0 1533.0,1189.0 1536.0,1173.0 1538.0,1192.0 1540.0,1052.0 1543.0,1049.0 1546.0,1050.0 1548.0,1187.0 1550.0,1100.0 1552.0,1081.0 1554.0,1150.0 1556.0,1209.0 1559.0,1198.0 1562.0,1227.0 1565.0,1218.0 1568.0,1250.0 1570.0,1240.0 1573.0,1262.0 1577.0,1287.0 1580.0,1250.0 1582.0,1218.0 1585.0,1232.0 1588.0,1206.0 1591.0,1235.0 1594.0,1205.0 1599.0,1248.0 1602.0,1200.0 1605.5,1163.0 1609.0,1231.0 1614.0,1171.0 1618.0,1201.0 1621.5,1165.0 1625.5,1234.0 1629.0,1165.0 1632.0,1201.0 1637.5,1188.0 1642.0,1227.0 1646.0,1202.0 1649.0,1188.0 1652.0,1200.0 1655.0,1185.0 1658.0,1193.0 1660.0,1175.0 1662.0,1187.0 1664.0,1165.0 1666.0,1125.0 1669.0,1120.0 1672.0,1108.0 1675.0,1106.0 1679.0,1097.0 1683.0,1096.0 1686.0,1103.0 1689.0,1106.0" fill="none" stroke="#000" stroke-width="7" stroke-linejoin="round"/><polyline clip-path="url(#cb)" points="1139.0,1083.0 1144.0,1100.0 1148.0,1110.0 1151.0,1157.0 1154.0,1110.0 1156.0,1117.0 1166.0,1117.0 1169.2,992.0 1171.5,1124.0 1175.0,1102.0 1180.0,1118.0 1186.0,1130.0 1192.0,1148.0 1196.2,990.0 1201.0,1016.0 1206.0,1099.0 1210.0,1066.0 1216.8,1005.0 1225.0,1091.0 1230.0,1052.0 1235.0,1096.0 1242.8,906.0 1247.0,1000.0 1255.0,1121.0 1262.5,883.0 1268.0,953.0 1275.0,1007.0 1279.5,795.0 1285.0,941.0 1288.0,960.0 1294.0,964.0 1299.8,888.0 1304.0,980.0 1312.0,1129.0 1320.0,986.0 1330.5,1159.0 1339.0,948.0 1345.0,1009.0 1355.0,1145.0 1359.0,1055.0 1366.8,1016.0 1370.0,1043.0 1377.0,1155.0 1380.0,1077.0 1386.5,1035.0 1394.0,1154.0 1402.0,1040.0 1405.0,1034.0 1409.0,1035.0 1414.0,1060.0 1420.0,1130.0 1425.0,1231.0 1437.0,961.0 1442.0,1065.0 1455.0,1202.0 1460.0,1173.0 1464.0,1120.0 1475.0,1047.0 1485.0,1222.0 1494.5,1032.0 1498.0,1110.0 1500.0,1167.0 1502.0,1115.0 1504.0,1172.0 1507.0,1113.0 1509.0,1169.0 1511.0,1123.0 1513.0,1175.0 1515.0,1143.0 1517.0,1192.0 1519.0,1163.0 1521.0,1195.0 1525.5,1125.0 1529.0,1187.0 1531.0,1133.0 1533.0,1189.0 1536.0,1173.0 1538.0,1192.0 1540.0,1052.0 1543.0,1049.0 1546.0,1050.0 1548.0,1187.0 1550.0,1100.0 1552.0,1081.0 1554.0,1150.0 1556.0,1209.0 1559.0,1198.0 1562.0,1227.0 1565.0,1218.0 1568.0,1250.0 1570.0,1240.0 1573.0,1262.0 1577.0,1287.0 1580.0,1250.0 1582.0,1218.0 1585.0,1232.0 1588.0,1206.0 1591.0,1235.0 1594.0,1205.0 1599.0,1248.0 1602.0,1200.0 1605.5,1163.0 1609.0,1231.0 1614.0,1171.0 1618.0,1201.0 1621.5,1165.0 1625.5,1234.0 1629.0,1165.0 1632.0,1201.0 1637.5,1188.0 1642.0,1227.0 1646.0,1202.0 1649.0,1188.0 1652.0,1200.0 1655.0,1185.0 1658.0,1193.0 1660.0,1175.0 1662.0,1187.0 1664.0,1165.0 1666.0,1125.0 1669.0,1120.0 1672.0,1108.0 1675.0,1106.0 1679.0,1097.0 1683.0,1096.0 1686.0,1103.0 1689.0,1106.0" fill="none" stroke="#000" stroke-width="8.5" stroke-linejoin="round"/><polyline clip-path="url(#cb)" points="272.5,1062.0 274.0,1097.0 275.5,1059.0 277.0,1098.0 278.5,1059.0 280.0,1097.0 282.0,1060.0 285.5,1032.0 288.5,1097.0 290.0,1043.0 293.2,1094.0 296.0,1002.0 299.0,1003.0" fill="none" stroke="#000" stroke-width="8" stroke-linejoin="round"/><polyline clip-path="url(#cb)" points="380.2,874.0 385.0,982.0 390.0,982.0 393.8,1045.0 399.8,983.0 403.0,1004.0 407.0,1004.0 409.0,1060.0 413.0,1092.0 417.0,1060.0 419.0,1070.0 420.0,1010.0 426.0,1010.0 427.0,1086.0 429.0,1070.0 431.0,1055.0 432.5,1067.0 433.5,952.0 439.0,952.0 440.0,1075.0 441.0,925.0 447.5,925.0 448.5,981.0 456.5,981.0 459.8,1104.0 463.0,1080.0 465.0,1080.0 466.0,967.0 472.0,967.0 474.5,1130.0 477.0,934.0 482.0,934.0 483.5,997.0 485.0,934.0 491.5,934.0 492.5,982.0 497.0,982.0 498.0,1102.0 505.0,1100.0 506.5,958.0 513.0,958.0 514.5,977.0 518.5,977.0 519.0,1056.0 526.0,1056.0 527.0,1086.0 530.0,1075.0 531.5,1023.0 538.0,1023.0 539.0,1097.0 542.0,1061.0 545.0,1073.0" fill="none" stroke="#000" stroke-width="9" stroke-linejoin="round"/><polyline clip-path="url(#cb)" points="741.0,927.0 744.0,1078.0 748.0,1027.0 752.0,1107.0 756.5,1059.0 761.5,1181.0 765.0,1057.0 768.0,1058.0 772.0,1004.0 782.5,889.0 786.0,996.0 792.0,1237.0 795.0,1074.0" fill="none" stroke="#000" stroke-width="7.5" stroke-linejoin="round"/><polyline clip-path="url(#cb)" points="845.0,1010.0 848.0,955.0 850.0,1003.0 853.0,951.0 856.0,940.0 859.5,912.0 862.0,937.0 864.0,922.0 867.0,890.0 870.0,888.0 873.0,845.0 876.0,861.0 880.0,811.0 884.0,870.0 886.5,1041.0 891.5,965.0 898.0,1185.0 902.0,941.0 908.0,799.0 912.0,1098.0 918.0,1098.0 921.0,1000.0 925.0,875.0 928.0,1075.0 930.0,1070.0 934.5,940.0 938.0,1083.0 940.0,986.0 942.0,1062.0 945.0,941.0 950.0,890.0" fill="none" stroke="#000" stroke-width="8.5" stroke-linejoin="round"/><polyline clip-path="url(#cb)" points="1020.0,1074.0 1022.5,839.0 1027.0,933.0 1028.0,1027.0 1034.0,1108.0 1037.0,1052.0 1041.0,1069.0 1051.5,974.0 1054.0,1053.0" fill="none" stroke="#000" stroke-width="7.5" stroke-linejoin="round"/>
<rect x="272.7" y="52.0" width="1418.3" height="597.0" fill="none" stroke="#000" stroke-width="4.6"/>
<rect x="272.7" y="698.0" width="1418.3" height="597.0" fill="none" stroke="#000" stroke-width="4.6"/>
<rect x="1252.7" y="52.0" width="436.5" height="167.4" fill="#fff" stroke="#000" stroke-width="2.7"/>
<line x1="1260" y1="96.5" x2="1407" y2="96.5" stroke="#000" stroke-width="8"/>
<line x1="1259.5" y1="175.6" x2="1396" y2="175.6" stroke="#f00" stroke-width="7.5" stroke-dasharray="6 8.44"/>
<text x="1419" y="119" font-size="64">Reference</text>
<text x="1421" y="197" font-size="64">Scheme</text>
<text x="246" y="665.8" font-size="57" text-anchor="end">0</text>
<text x="246" y="516.5" font-size="57" text-anchor="end">5</text>
<text x="246" y="367.3" font-size="57" text-anchor="end">10</text>
<text x="246" y="218.1" font-size="57" text-anchor="end">15</text>
<text x="246" y="68.8" font-size="57" text-anchor="end">20</text>
<text x="246" y="714.8" font-size="57" text-anchor="end">2</text>
<text x="246" y="913.8" font-size="57" text-anchor="end">1</text>
<text x="246" y="1112.8" font-size="57" text-anchor="end">0</text>
<text x="246" y="1311.8" font-size="57" text-anchor="end">-1</text>
<text x="272.7" y="1358" font-size="57" text-anchor="middle">0</text>
<text x="556.4" y="1358" font-size="57" text-anchor="middle">2.5</text>
<text x="840.0" y="1358" font-size="57" text-anchor="middle">5</text>
<text x="1123.7" y="1358" font-size="57" text-anchor="middle">7.5</text>
<text x="1407.3" y="1358" font-size="57" text-anchor="middle">10</text>
<text x="1691.0" y="1358" font-size="57" text-anchor="middle">12.5</text>
<text x="981.5" y="1409" font-size="57.8" text-anchor="middle">Time (s)</text>
<text transform="translate(169 318.5) rotate(-90)" font-size="58" text-anchor="middle">Force (N)</text>
<text transform="translate(169 961) rotate(-90)" font-size="58" text-anchor="middle">Error (N)</text>
<text x="34" y="102" font-size="57">(a)</text>
<text x="32" y="748" font-size="57">(b)</text>
</svg></body></html>
